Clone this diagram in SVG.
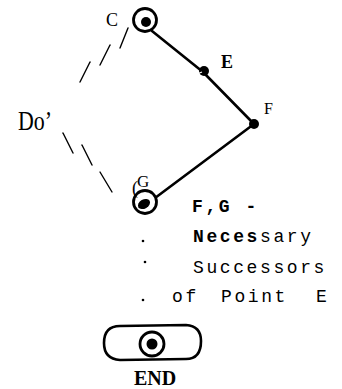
<svg xmlns="http://www.w3.org/2000/svg" width="342" height="389" viewBox="0 0 342 389">
<style>
.ln{stroke:#000;stroke-width:2.6;fill:none;stroke-linecap:round}
.ds{stroke:#000;stroke-width:1.4;fill:none;stroke-linecap:round}
.ring{stroke:#000;stroke-width:2.8;fill:#fff}
.lbl{font-family:"Liberation Serif",serif;fill:#000}
.mono{font-family:"Liberation Mono","Courier New",monospace;font-size:18px;letter-spacing:2.6px;fill:#000}
</style>
<rect width="342" height="389" fill="#fff"/>
<g id="connectors">
<line class="ln" x1="152" y1="31" x2="203" y2="72"/>
<line class="ln" x1="203" y1="72" x2="254" y2="124"/>
<line class="ln" x1="254" y1="124" x2="155" y2="198"/>
<line class="ds" x1="128" y1="28" x2="120" y2="48"/>
<line class="ds" x1="110" y1="45" x2="100" y2="65"/>
<line class="ds" x1="90" y1="62" x2="80" y2="82"/>
<line class="ds" x1="63" y1="133" x2="73" y2="153"/>
<line class="ds" x1="82" y1="145" x2="92" y2="165"/>
<line class="ds" x1="100" y1="172" x2="112" y2="192"/>
</g>
<g id="C">
<circle class="ring" cx="145" cy="20" r="11.5"/>
<circle cx="146" cy="22" r="5" fill="#000"/>
<text class="lbl" x="106" y="26" font-size="18">C</text>
</g>
<g id="E">
<circle cx="204" cy="71" r="5" fill="#000"/>
<path d="M197,74 L202,72" stroke="#fff" stroke-width="1.2"/>
<text class="lbl" x="221" y="68" font-size="18" font-weight="bold">E</text>
</g>
<g id="F">
<circle cx="254" cy="124" r="5" fill="#000"/>
<text class="lbl" x="264" y="114" font-size="16">F</text>
</g>
<g id="G">
<circle class="ring" cx="145" cy="202" r="11.5"/>
<ellipse cx="144" cy="204" rx="6.5" ry="4.5" transform="rotate(-30 144 204)" fill="#000"/>
<text class="lbl" x="132" y="194" font-size="18">(</text>
<text class="lbl" x="137" y="187" font-size="17">G</text>
</g>
<g id="Do">
<text class="lbl" x="18" y="130" font-size="28" textLength="34" lengthAdjust="spacingAndGlyphs">Do’</text>
</g>
<g id="note">
<text class="mono" x="192" y="212" font-weight="bold">F,G -</text>
<text class="mono" x="193" y="242"><tspan font-weight="bold">Neces</tspan>sary</text>
<text class="mono" x="193" y="273">Successors</text>
<text class="mono" x="172" y="302">of</text>
<text class="mono" x="221" y="302">Point</text>
<text class="mono" x="316" y="302">E</text>
<circle cx="143" cy="241" r="1.3" fill="#000"/>
<circle cx="145" cy="262" r="1.3" fill="#000"/>
<circle cx="143" cy="300" r="1.3" fill="#000"/>
</g>
<g id="END">
<path class="ln" d="M120,326 L186,325 Q201,326 201,341 Q201,359 186,359 L120,360 Q104,359 104,343 Q104,326 120,326 Z"/>
<circle class="ring" cx="152" cy="344" r="12"/>
<circle cx="152" cy="344" r="5.5" fill="#000"/>
<text class="lbl" x="134" y="385" font-size="20" font-weight="bold">END</text>
</g>
</svg>
